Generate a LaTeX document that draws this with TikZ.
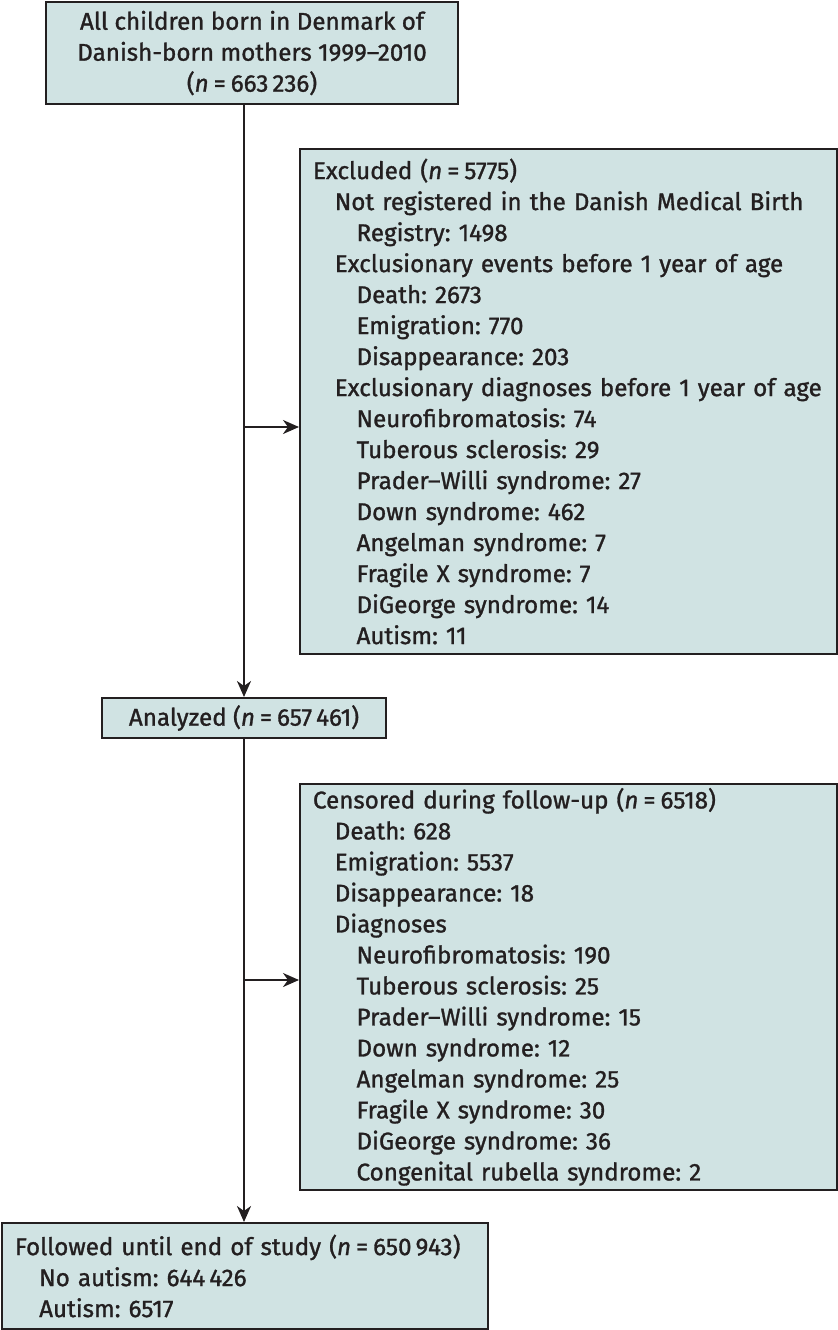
\documentclass[tikz,border=0pt]{standalone}
\usepackage{fontspec}
\setmainfont{Fira Sans}[UprightFeatures={FakeBold=1.2}, ItalicFeatures={FakeBold=1.2}]
\usetikzlibrary{arrows.meta,positioning,calc}
\definecolor{boxfill}{RGB}{208,227,227}
\definecolor{ink}{RGB}{35,31,32}
\newcommand{\nn}{\textit{n}\kern2.5pt=\kern2.5pt}
\frenchspacing

\begin{document}
\begin{tikzpicture}[
  x=0.5pt, y=-0.5pt,
  box/.style={draw=ink, fill=boxfill, line width=1pt, anchor=north west, text=ink,
    inner xsep=6.5pt, inner ysep=2pt, font=\fontsize{12.1}{15.5}\selectfont},
  lbox/.style={box, align=left},
  arr/.style={-{Stealth[length=8pt, width=7pt, inset=2.5pt]}, line width=1pt, draw=ink}
]
  \useasboundingbox (0,0) rectangle (838,1330);

  % flow boxes
  \node[box, align=center, minimum width=206pt, minimum height=51pt] (all) at (45,1)
    {All children born in Denmark of\\Danish-born mothers 1999--2010\\(\nn663\,236)};
  \node[box, align=center, minimum width=142pt, minimum height=20pt] (ana) at (101,697)
    {Analyzed (\nn657\,461)};
  \node[lbox, text width=230pt, minimum height=53pt] (fin) at (1,1222)
    {Followed until end of study (\nn650\,943)\\
     \hspace*{1em}No autism: 644\,426\\
     \hspace*{1em}Autism: 6517};

  % side boxes
  \node[lbox, text width=255.5pt, minimum height=252.5pt] (exc) at (299,148)
    {Excluded (\nn5775)\\
     \hspace*{0.9em}Not registered in the Danish Medical Birth\\
     \hspace*{1.8em}Registry: 1498\\
     \hspace*{0.9em}Exclusionary events before 1 year of age\\
     \hspace*{1.8em}Death: 2673\\
     \hspace*{1.8em}Emigration: 770\\
     \hspace*{1.8em}Disappearance: 203\\
     \hspace*{0.9em}Exclusionary diagnoses before 1 year of age\\
     \hspace*{1.8em}Neurofibromatosis: 74\\
     \hspace*{1.8em}Tuberous sclerosis: 29\\
     \hspace*{1.8em}Prader--Willi syndrome: 27\\
     \hspace*{1.8em}Down syndrome: 462\\
     \hspace*{1.8em}Angelman syndrome: 7\\
     \hspace*{1.8em}Fragile X syndrome: 7\\
     \hspace*{1.8em}DiGeorge syndrome: 14\\
     \hspace*{1.8em}Autism: 11};
  \node[lbox, text width=255.5pt, minimum height=202.5pt] (cen) at (299,783)
    {Censored during follow-up (\nn6518)\\
     \hspace*{0.9em}Death: 628\\
     \hspace*{0.9em}Emigration: 5537\\
     \hspace*{0.9em}Disappearance: 18\\
     \hspace*{0.9em}Diagnoses\\
     \hspace*{1.8em}Neurofibromatosis: 190\\
     \hspace*{1.8em}Tuberous sclerosis: 25\\
     \hspace*{1.8em}Prader--Willi syndrome: 15\\
     \hspace*{1.8em}Down syndrome: 12\\
     \hspace*{1.8em}Angelman syndrome: 25\\
     \hspace*{1.8em}Fragile X syndrome: 30\\
     \hspace*{1.8em}DiGeorge syndrome: 36\\
     \hspace*{1.8em}Congenital rubella syndrome: 2};

  % junctions on the main line
  \coordinate (j1) at (244,427);
  \coordinate (j2) at (244,980);

  \draw[arr] (all.south -| ana.north) -- (ana.north);
  \draw[arr] (ana.south) -- (fin.north -| ana.south);
  \draw[arr] (j1) -- (j1 -| exc.west);
  \draw[arr] (j2) -- (j2 -| cen.west);
\end{tikzpicture}
\end{document}
